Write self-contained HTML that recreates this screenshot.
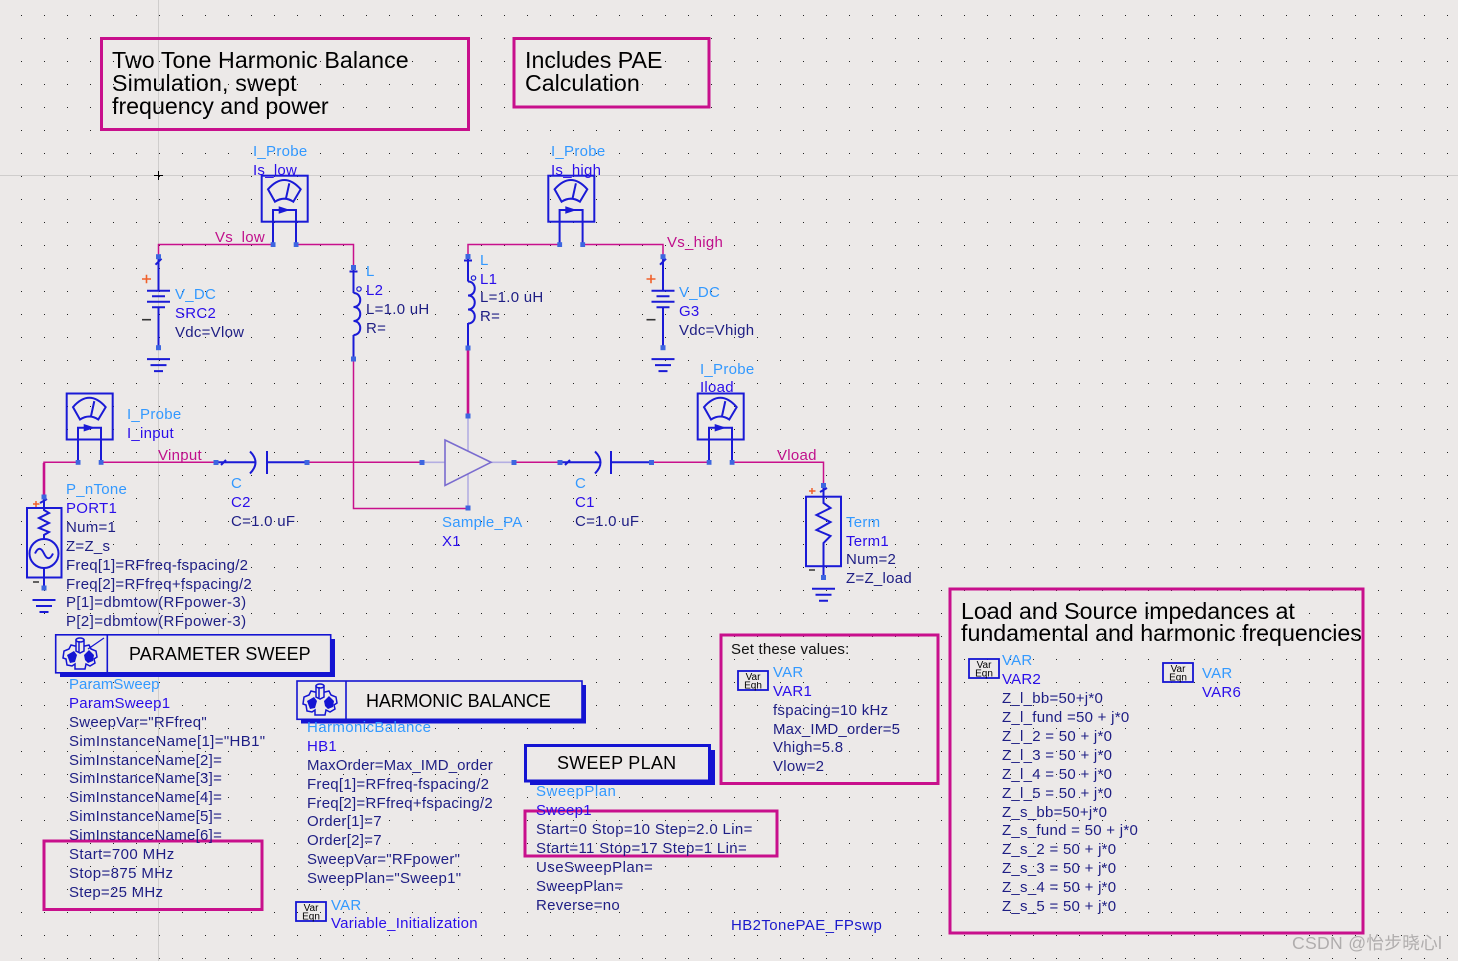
<!DOCTYPE html>
<html><head><meta charset="utf-8"><style>
html,body{margin:0;padding:0;background:#ece9e8;overflow:hidden}
svg{display:block}
text{font-family:"Liberation Sans","Noto Sans CJK SC",sans-serif;font-size:15px;letter-spacing:.27px;white-space:pre}
.t{fill:#3399ff}.i{fill:#2a0eea}.p{fill:#1e1e84}.w{fill:#c0108c}
.h{fill:#000;font-size:23.2px;letter-spacing:0}.b{fill:#000;font-size:18px}
.c{fill:none;stroke:#1a1ad6;stroke-width:2}
.m{fill:none;stroke:#c8108c;stroke-width:1.5}
.mt{fill:none;stroke:#c8108c;stroke-width:2.6}
.a{fill:none;stroke:#b4aee2;stroke-width:1.6}
.n{fill:#3d66e0}
.f{fill:none;stroke:#c8108c;stroke-width:3}
.v{fill:#000;font-size:10px;letter-spacing:0}
.gs{fill:#ece9e8;stroke:#1414d2;stroke-width:1.5}
</style></head><body>
<svg xmlns="http://www.w3.org/2000/svg" width="1458" height="961" viewBox="0 0 1458 961">
<defs>
<pattern id="g" x="21" y="15" width="23" height="23" patternUnits="userSpaceOnUse"><rect width="1" height="1" fill="#222"/></pattern>
<g id="probe">
<rect x="0" y="0" width="46" height="46" class="c"/>
<path class="c" d="M13.3 26 L6.3 13.6 Q22.6 -5 39 13.6 L31.6 26 Q22.6 20 13.3 26Z M24.3 22.6 L27.6 7.6"/>
<path class="c" d="M11.3 69 V34.3 H34.3 V69"/>
<path d="M17 30.5 L28.5 34.3 L17 38Z" fill="#1a1ad6"/>
<rect class="n" x="9" y="66.5" width="4.8" height="4.8"/><rect class="n" x="32" y="66.5" width="4.8" height="4.8"/>
</g>
<g id="dc">
<path class="c" d="M0 0V34M-11.5 34H11.5M-6.5 39.5H6.5M-11.5 45H11.5M-6.5 50.6H6.5M0 51V91"/>
<path class="c" d="M-11.5 102.4H11.5M-8 108.4H8M-4.5 114.4H4.5"/>
<path class="c" d="M-3 8L3 2" />
<rect class="n" x="-2.5" y="-2.5" width="5" height="5"/><rect class="n" x="-2.5" y="88.5" width="5" height="5"/>
<path d="M-16.5 22.3H-7.5M-12 18V26.6" stroke="#f0602a" stroke-width="1.6" fill="none"/>
<path d="M-16.5 63H-7.5" stroke="#333" stroke-width="1.6"/>
</g>
<g id="gnd"><path class="c" d="M-11.5 0H11.5M-8 6H8M-4.5 12H4.5"/></g>
<g id="coil"><path class="c" d="M0 0 C9 0 9 14 0 14 C9 14 9 28 0 28 C9 28 9 42 0 42"/></g>
<g id="gear">
<path class="gs" d="M-5-8 L-9-9 L-11-5 L-16-3 L-17 4 L-14 5 L-13 11 L-8 12 L-5 10 L-5 15 L5 15 L6 10 L10 12 L15 9 L14 5 L17 3 L16-3 L11-5 L9-9 L5-8Z"/>
<path fill="#1414d2" d="M-13 1 L-6-3 L-3 1 L-5 8 L-10 9Z M4 1 L9-4 L14 1 L13 7 L8 9 L5 6Z"/>
<path class="gs" d="M-4-14V-3L0-1L4-3V-14Z"/><ellipse class="gs" cx="0" cy="-14" rx="4" ry="2"/>
<path d="M-1-13V-2" stroke="#1414d2" stroke-width="1.5" fill="none"/>
</g>
<g id="vareqn"><rect x="0" y="0" width="30" height="19" fill="none" stroke="#1414d2" stroke-width="1.8"/>
<text class="v" x="15" y="9" text-anchor="middle">Var</text><text class="v" x="15" y="17.5" text-anchor="middle">Eqn</text></g>
</defs>
<rect width="1458" height="961" fill="#ece9e8"/>
<rect width="1458" height="961" fill="url(#g)"/>
<path d="M0 175.5H1458M158.5 0V961" stroke="#cfcdcc" stroke-width="1" fill="none"/>
<path d="M154 175.5H163M158.5 171V180" stroke="#000" stroke-width="1" fill="none"/>

<!-- frames -->
<rect class="f" x="101.5" y="38.5" width="367" height="91"/>
<rect class="f" x="514" y="38.5" width="195" height="68.5"/>
<rect class="f" x="44" y="841" width="218" height="68.5"/>
<rect class="f" x="721" y="635" width="217" height="148.5"/>
<rect class="f" x="950" y="589" width="413" height="344"/>
<rect class="f" x="525" y="811" width="252" height="45"/>

<text class="h" x="112" y="68" style="letter-spacing:.08px">Two Tone Harmonic Balance</text>
<text class="h" x="112" y="91" style="letter-spacing:.18px">Simulation, swept</text>
<text class="h" x="112" y="114">frequency and power</text>
<text class="h" x="525" y="68">Includes PAE</text>
<text class="h" x="525" y="91">Calculation</text>
<text class="h" x="961" y="619">Load and Source impedances at</text>
<text class="h" x="961" y="641">fundamental and harmonic frequencies</text>

<!-- wires -->
<path class="m" d="M158.5 256V244.5H273M296 244.5H353.5V267M353.5 359V508.5H468"/>
<path class="m" d="M468 256V244.5H560M583 244.5H663V256"/>
<path class="mt" d="M468 348V416"/>
<path class="m" d="M44 497V462.3H78"/>
<path class="mt" d="M44 497V463"/>
<path class="m" d="M101 462.3H216M307 462.3H422M514 462.3H560M652 462.3H709M732 462.3H823.5V485"/>

<!-- probes -->
<use href="#probe" x="261.7" y="175.7"/>
<use href="#probe" x="548.3" y="175.7"/>
<use href="#probe" x="66.7" y="393.5"/>
<use href="#probe" x="697.7" y="393.5"/>

<!-- DC sources -->
<use href="#dc" x="158.5" y="256.7"/>
<use href="#dc" x="663" y="256.7"/>

<!-- inductors -->
<path class="c" d="M353.5 267V293M353.5 335V359M349.5 271.5L357.5 271.5"/>
<use href="#coil" x="353.5" y="293"/>
<circle class="c" cx="359" cy="289" r="2.2" style="stroke-width:1.2"/>
<rect class="n" x="351" y="265" width="5" height="5"/><rect class="n" x="351" y="356.5" width="5" height="5"/>
<path class="c" d="M468 256.7V281.5M468 323V348M464 260.5L472 260.5"/>
<use href="#coil" x="468" y="281.5"/>
<circle class="c" cx="473.5" cy="278" r="2.2" style="stroke-width:1.2"/>
<rect class="n" x="465.5" y="254" width="5" height="5"/><rect class="n" x="465.5" y="345.5" width="5" height="5"/>

<!-- capacitors -->
<path class="c" d="M216 462.3H256M221 465L226 460M250 451.5Q261 462.3 250 473.5M267 451V474M267 462.3H307"/>
<rect class="n" x="213.5" y="460" width="5" height="5"/><rect class="n" x="304.5" y="460" width="5" height="5"/>
<path class="c" d="M560 462.3H600M565 465L570 460M595 451.5Q606 462.3 595 473.5M611 451V474M611 462.3H652"/>
<rect class="n" x="557.5" y="460" width="5" height="5"/><rect class="n" x="649" y="460" width="5" height="5"/>

<!-- amp -->
<path class="a" d="M422 462.3H445M491 462.3H514M468 416V451M468 474V508"/>
<path d="M445 440L491 462.3L445 485.5Z" fill="none" stroke="#7a6ccf" stroke-width="1.6"/>
<rect class="n" x="419.5" y="460" width="5" height="5"/><rect class="n" x="511.5" y="460" width="5" height="5"/>
<rect class="n" x="465.5" y="413.5" width="5" height="5"/><rect class="n" x="465.5" y="505.5" width="5" height="5"/>

<!-- port -->
<rect class="c" x="27" y="508" width="34.5" height="69.5"/>
<path class="c" d="M44 497V510L49 513L39 518L49 523L39 528L49 532L44 535V539M44 568V588M40 503L47 499"/>
<circle class="c" cx="44" cy="553.5" r="14.5"/>
<path class="c" d="M35 553.5Q39.5 544 44 553.5T53 553.5"/>
<rect class="n" x="41.5" y="494.5" width="5" height="5"/><rect class="n" x="41.5" y="585.5" width="5" height="5"/>
<path d="M33 504H39.5M36 501V507" stroke="#f0602a" stroke-width="1.5" fill="none"/>
<path d="M33 582H39" stroke="#333" stroke-width="1.5"/>
<use href="#gnd" x="44" y="600"/>

<!-- term -->
<rect class="c" x="806" y="496.7" width="35" height="69.5"/>
<path class="c" d="M823.5 485V503L830.5 508L816.5 515L830.5 522L816.5 530L830.5 536L823.5 543V578M820 492L827 488"/>
<rect class="n" x="821" y="483" width="5" height="5"/><rect class="n" x="821" y="575" width="5" height="5"/>
<path d="M809 491H815.5M812 488V494" stroke="#f0602a" stroke-width="1.5" fill="none"/>
<path d="M809 570H815" stroke="#333" stroke-width="1.5"/>
<use href="#gnd" x="823.5" y="588.7"/>

<!-- banners -->
<path fill="#1414d2" d="M60 672H331V639H335V677H60Z"/>
<rect x="55.7" y="634.8" width="275" height="38" fill="#ece9e8" stroke="#1414d2" stroke-width="1.6"/>
<path d="M107.3 635V672" stroke="#1414d2" stroke-width="1.6"/>
<use href="#gear" x="80" y="654"/>
<path d="M88 649L104 638" stroke="#1414d2" stroke-width="1.2"/>
<text class="b" x="129" y="660" style="letter-spacing:.07px">PARAMETER SWEEP</text>

<path fill="#1414d2" d="M301 719H582V685H586V723.5H301Z"/>
<rect x="297" y="681" width="285" height="38.3" fill="#ece9e8" stroke="#1414d2" stroke-width="1.6"/>
<path d="M346 681V719" stroke="#1414d2" stroke-width="1.6"/>
<use href="#gear" x="320" y="700"/>
<text class="b" x="366" y="707" style="letter-spacing:-.15px">HARMONIC BALANCE</text>

<path fill="#1414d2" d="M530 781H710V750H715V785H530Z"/>
<rect x="525.5" y="745.5" width="184" height="35.5" fill="#ece9e8" stroke="#1414d2" stroke-width="3"/>
<text class="b" x="557" y="769">SWEEP PLAN</text>

<!-- labels schematic -->
<text class="t" x="253" y="156">I_Probe</text><text class="i" x="253" y="175">Is_low</text>
<text class="t" x="551" y="156">I_Probe</text><text class="i" x="551" y="175">Is_high</text>
<text class="w" x="215" y="242">Vs_low</text>
<text class="w" x="667" y="247">Vs_high</text>
<text class="t" x="366" y="276">L</text><text class="i" x="366" y="295">L2</text><text class="p" x="366" y="314">L=1.0 uH</text><text class="p" x="366" y="333">R=</text>
<text class="t" x="480" y="265">L</text><text class="i" x="480" y="284">L1</text><text class="p" x="480" y="302">L=1.0 uH</text><text class="p" x="480" y="321">R=</text>
<text class="t" x="175" y="299">V_DC</text><text class="i" x="175" y="318">SRC2</text><text class="p" x="175" y="337">Vdc=Vlow</text>
<text class="t" x="679" y="297">V_DC</text><text class="i" x="679" y="316">G3</text><text class="p" x="679" y="335">Vdc=Vhigh</text>
<text class="t" x="700" y="374">I_Probe</text><text class="i" x="700" y="392">Iload</text>
<text class="t" x="127" y="419">I_Probe</text><text class="i" x="127" y="438">I_input</text>
<text class="w" x="158" y="460">Vinput</text>
<text class="w" x="777" y="460">Vload</text>
<text class="t" x="231" y="488">C</text><text class="i" x="231" y="507">C2</text><text class="p" x="231" y="526">C=1.0 uF</text>
<text class="t" x="575" y="488">C</text><text class="i" x="575" y="507">C1</text><text class="p" x="575" y="526">C=1.0 uF</text>
<text class="t" x="442" y="527">Sample_PA</text><text class="i" x="442" y="546">X1</text>
<text class="t" x="846" y="527">Term</text><text class="i" x="846" y="546">Term1</text><text class="p" x="846" y="564">Num=2</text><text class="p" x="846" y="583">Z=Z_load</text>
<text class="t" x="66" y="494">P_nTone</text><text class="i" x="66" y="513">PORT1</text><text class="p" x="66" y="532">Num=1</text><text class="p" x="66" y="551">Z=Z_s</text>
<text class="p" x="66" y="570">Freq[1]=RFfreq-fspacing/2</text><text class="p" x="66" y="589">Freq[2]=RFfreq+fspacing/2</text>
<text class="p" x="66" y="607" style="letter-spacing:.38px">P[1]=dbmtow(RFpower-3)</text><text class="p" x="66" y="626" style="letter-spacing:.38px">P[2]=dbmtow(RFpower-3)</text>

<!-- param sweep -->
<text class="t" x="69" y="689" style="letter-spacing:.05px">ParamSweep</text><text class="i" x="69" y="708">ParamSweep1</text>
<text class="p" x="69" y="727">SweepVar="RFfreq"</text>
<text class="p" x="69" y="746" style="letter-spacing:.36px">SimInstanceName[1]="HB1"</text>
<text class="p" x="69" y="765">SimInstanceName[2]=</text>
<text class="p" x="69" y="783">SimInstanceName[3]=</text>
<text class="p" x="69" y="802">SimInstanceName[4]=</text>
<text class="p" x="69" y="821">SimInstanceName[5]=</text>
<text class="p" x="69" y="840">SimInstanceName[6]=</text>
<text class="p" x="69" y="859" style="letter-spacing:.4px">Start=700 MHz</text>
<text class="p" x="69" y="878" style="letter-spacing:.4px">Stop=875 MHz</text>
<text class="p" x="69" y="897">Step=25 MHz</text>

<!-- HB -->
<text class="t" x="307" y="732" style="letter-spacing:.4px">HarmonicBalance</text><text class="i" x="307" y="751">HB1</text>
<text class="p" x="307" y="770" style="letter-spacing:.13px">MaxOrder=Max_IMD_order</text>
<text class="p" x="307" y="789">Freq[1]=RFfreq-fspacing/2</text>
<text class="p" x="307" y="808">Freq[2]=RFfreq+fspacing/2</text>
<text class="p" x="307" y="826">Order[1]=7</text>
<text class="p" x="307" y="845">Order[2]=7</text>
<text class="p" x="307" y="864">SweepVar="RFpower"</text>
<text class="p" x="307" y="883">SweepPlan="Sweep1"</text>
<use href="#vareqn" x="296" y="902"/>
<text class="t" x="331" y="910">VAR</text><text class="i" x="331" y="928">Variable_Initialization</text>

<!-- sweep plan -->
<text class="t" x="536" y="796" style="letter-spacing:.5px">SweepPlan</text><text class="i" x="536" y="815">Sweep1</text>
<text class="p" x="536" y="834" style="letter-spacing:.34px">Start=0 Stop=10 Step=2.0 Lin=</text>
<text class="p" x="536" y="853" style="letter-spacing:.34px">Start=11 Stop=17 Step=1 Lin=</text>
<text class="p" x="536" y="872" style="letter-spacing:.45px">UseSweepPlan=</text>
<text class="p" x="536" y="891">SweepPlan=</text>
<text class="p" x="536" y="910">Reverse=no</text>
<text class="i" x="731" y="930" style="fill:#1a1acc;letter-spacing:.4px">HB2TonePAE_FPswp</text>

<!-- set values -->
<text x="731" y="654" fill="#111" style="letter-spacing:.2px">Set these values:</text>
<use href="#vareqn" x="738" y="671"/>
<text class="t" x="773" y="677">VAR</text><text class="i" x="773" y="696">VAR1</text>
<text class="p" x="773" y="715">fspacing=10 kHz</text>
<text class="p" x="773" y="734" style="letter-spacing:.17px">Max_IMD_order=5</text>
<text class="p" x="773" y="752">Vhigh=5.8</text>
<text class="p" x="773" y="771">Vlow=2</text>

<!-- impedances -->
<use href="#vareqn" x="969" y="659"/>
<text class="t" x="1002" y="665">VAR</text><text class="i" x="1002" y="684">VAR2</text>
<text class="p" x="1002" y="703">Z_l_bb=50+j*0</text>
<text class="p" x="1002" y="722">Z_l_fund =50 + j*0</text>
<text class="p" x="1002" y="741">Z_l_2 = 50 + j*0</text>
<text class="p" x="1002" y="760">Z_l_3 = 50 + j*0</text>
<text class="p" x="1002" y="779">Z_l_4 = 50 + j*0</text>
<text class="p" x="1002" y="798">Z_l_5 = 50 + j*0</text>
<text class="p" x="1002" y="817">Z_s_bb=50+j*0</text>
<text class="p" x="1002" y="835">Z_s_fund = 50 + j*0</text>
<text class="p" x="1002" y="854">Z_s_2 = 50 + j*0</text>
<text class="p" x="1002" y="873">Z_s_3 = 50 + j*0</text>
<text class="p" x="1002" y="892">Z_s_4 = 50 + j*0</text>
<text class="p" x="1002" y="911">Z_s_5 = 50 + j*0</text>
<use href="#vareqn" x="1163" y="663"/>
<text class="t" x="1202" y="678">VAR</text><text class="i" x="1202" y="697">VAR6</text>

<text x="1292" y="949" style="font-size:17.6px;fill:#b0adad;letter-spacing:.3px">CSDN @怡步晓心l</text>
</svg>
</body></html>
